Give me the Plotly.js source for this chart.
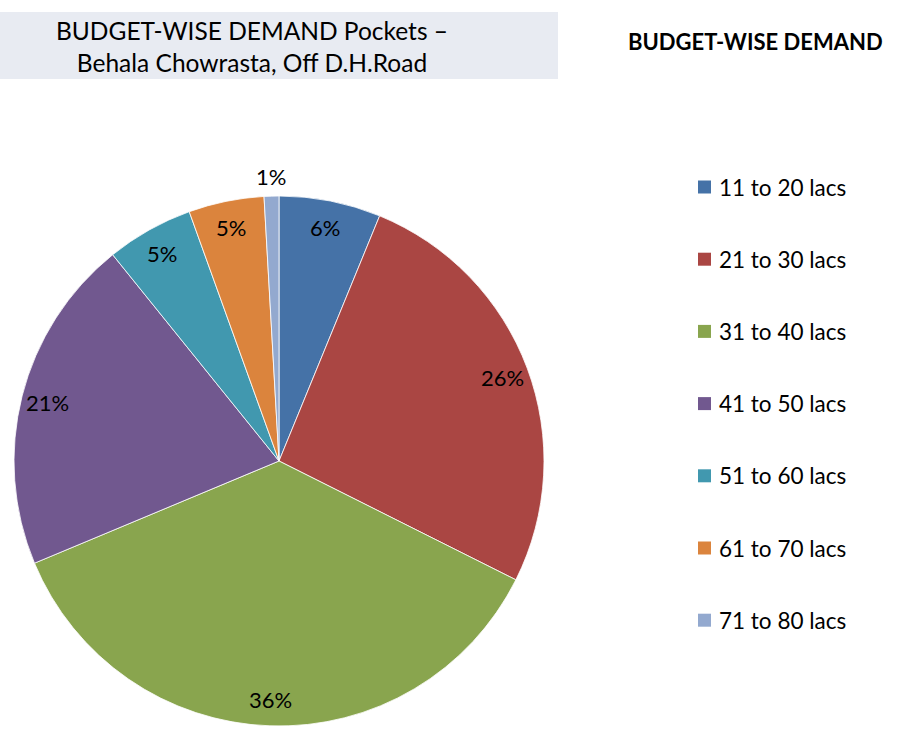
<!DOCTYPE html>
<html>
<head>
<meta charset="utf-8">
<script src="https://cdn.plot.ly/plotly-3.0.1.min.js"></script>
<style>html,body{margin:0;padding:0;background:#fff;}#chart{width:900px;height:738px;}</style>
</head>
<body>
<div id="chart"></div>
<script>
const categories = ["11 to 20 lacs","21 to 30 lacs","31 to 40 lacs","41 to 50 lacs","51 to 60 lacs","61 to 70 lacs","71 to 80 lacs"];
const shares = [6.2, 26.2, 36.3, 20.5, 5.3, 4.6, 0.9];
const colors = ["#4572A7","#AA4643","#89A54E","#71588F","#4198AF","#DB843D","#93A9CF"];
const chartTitle = "BUDGET-WISE DEMAND Pockets –<br>Behala Chowrasta, Off D.H.Road";
const legendTitle = "BUDGET-WISE DEMAND";

const W = 900, H = 738;
const FONT = "Lato, 'Open Sans', sans-serif";
// pie geometry (pixels)
const pieLeft = 14, pieTop = 196, pieSize = 530;
const cx = pieLeft + pieSize/2, cy = pieTop + pieSize/2, R = pieSize/2;

const total = shares.reduce((a,b)=>a+b,0);
const annotations = [];
const shapes = [];

// title background
shapes.push({type:'rect', xref:'paper', yref:'paper', x0:0, x1:558/W, y0:1-79/H, y1:1-12/H,
  fillcolor:'#E8EBF2', line:{width:0}, layer:'below'});
annotations.push({xref:'paper', yref:'paper', x:252/W, y:1-46/H, xanchor:'center', yanchor:'middle',
  text:chartTitle, showarrow:false, align:'center', font:{family:FONT, size:24.5, color:'#000'}});

// percentage labels
let cum = 0;
shares.forEach((v,i)=>{
  const mid = (cum + v/2)/total * 2*Math.PI;
  cum += v;
  const pct = v/total*100;
  const r = pct < 2 ? R*1.075 : R*0.9;
  const x = cx + r*Math.sin(mid), y = cy - r*Math.cos(mid);
  annotations.push({xref:'paper', yref:'paper', x:x/W, y:1-y/H, xanchor:'center', yanchor:'middle',
    text: Math.round(pct)+'%', showarrow:false, font:{family:FONT, size:22, color:'#000'}});
});

// legend
annotations.push({xref:'paper', yref:'paper', x:755/W, y:1-41/H, xanchor:'center', yanchor:'middle',
  text:'<b>'+legendTitle+'</b>', showarrow:false, font:{family:FONT, size:22, color:'#000'}});
const legTop = 187, legStep = 72.2;
categories.forEach((c,i)=>{
  const yc = legTop + i*legStep;
  shapes.push({type:'rect', xref:'paper', yref:'paper', x0:698/W, x1:711/W, y0:1-(yc+6.5)/H, y1:1-(yc-6.5)/H,
    fillcolor:colors[i], line:{width:0}});
  annotations.push({xref:'paper', yref:'paper', x:717/W, y:1-yc/H, xanchor:'left', yanchor:'middle',
    text:c, showarrow:false, font:{family:FONT, size:22.5, color:'#000'}});
});

const trace = {
  type:'pie', labels:categories, values:shares, sort:false, direction:'clockwise', rotation:0,
  marker:{colors:colors, line:{color:'#ffffff', width:0.8}},
  textinfo:'none', hoverinfo:'label+percent', showlegend:false,
  domain:{x:[pieLeft/W, (pieLeft+pieSize)/W], y:[1-(pieTop+pieSize)/H, 1-pieTop/H]}
};

Plotly.newPlot('chart', [trace], {
  width:W, height:H, margin:{l:0,r:0,t:0,b:0},
  paper_bgcolor:'#fff', showlegend:false,
  shapes:shapes, annotations:annotations
}, {displayModeBar:false, staticPlot:true});
</script>
</body>
</html>
